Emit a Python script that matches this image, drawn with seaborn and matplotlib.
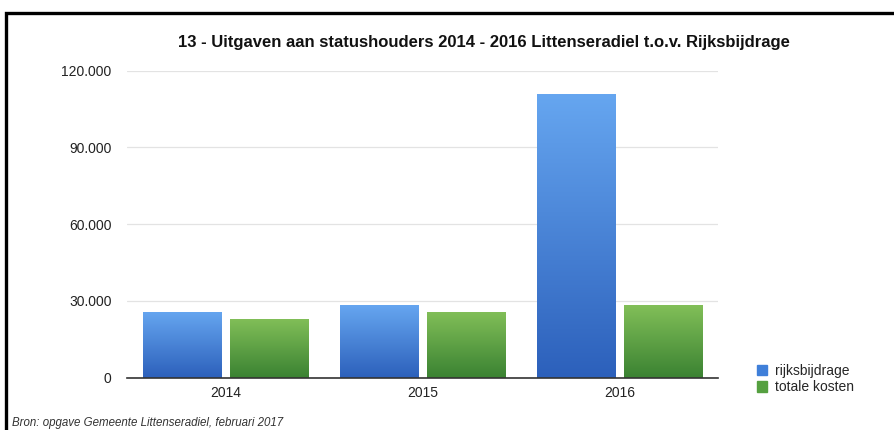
import numpy as np
import pandas as pd
import matplotlib
matplotlib.use("Agg")
import matplotlib.pyplot as plt
from matplotlib.colors import LinearSegmentedColormap
from matplotlib.lines import Line2D
from matplotlib.ticker import FuncFormatter
import seaborn as sns

# Data
jaren = ["2014", "2015", "2016"]
rijksbijdrage = [25800, 28300, 111000]
totale_kosten = [23100, 25800, 28400]
reeksen = ["rijksbijdrage", "totale kosten"]

titel = "13 - Uitgaven aan statushouders 2014 - 2016 Littenseradiel t.o.v. Rijksbijdrage"
bron = "Bron: opgave Gemeente Littenseradiel, februari 2017"

df = pd.DataFrame({
    "jaar": jaren * 2,
    "reeks": [reeksen[0]] * 3 + [reeksen[1]] * 3,
    "waarde": rijksbijdrage + totale_kosten,
})

sns.set_style("white")
plt.rcParams["font.family"] = ["Liberation Sans", "DejaVu Sans"]

kleuren = {"rijksbijdrage": "#3f7fd9", "totale kosten": "#55a040"}
gradienten = {
    "rijksbijdrage": ("#2c60bb", "#66a6f0"),
    "totale kosten": ("#3a8232", "#82bf58"),
}

fig = plt.figure(figsize=(8.95, 4.30), dpi=100)
ax = fig.add_axes([127 / 895, 1 - 377.7 / 430, 591 / 895, 307 / 430])

sns.barplot(data=df, x="jaar", y="waarde", hue="reeks", palette=kleuren,
            width=0.883, gap=0.092, ax=ax, legend=False, saturation=1)

ax.set_ylim(0, 120000)
ax.set_xlim(-0.5, 2.5)

# gradient fill per bar
patches = [p for p in ax.patches]
for i, p in enumerate(patches):
    reeks = reeksen[i // 3]
    lo, hi = gradienten[reeks]
    cmap = LinearSegmentedColormap.from_list(reeks, [lo, hi])
    x0, y0 = p.get_x(), p.get_y()
    w, h = p.get_width(), p.get_height()
    grad = np.linspace(0, 1, 256).reshape(-1, 1)
    im = ax.imshow(grad, cmap=cmap, origin="lower", aspect="auto",
                   extent=[x0, x0 + w, y0, y0 + h], zorder=3)
    im.set_clip_path(p)
    p.set_edgecolor("#e8eef8")
    p.set_linewidth(0.6)

ax.set_ylim(0, 120000)
ax.set_xlim(-0.5, 2.5)

ax.set_yticks([0, 30000, 60000, 90000, 120000])
ax.yaxis.set_major_formatter(FuncFormatter(lambda v, _: f"{int(v):,}".replace(",", ".")))
ax.grid(axis="y", color="#e3e3e3", linewidth=0.9)
ax.set_axisbelow(True)
ax.tick_params(axis="both", length=0, labelsize=10, colors="#222222")
ax.tick_params(axis="y", pad=11)
ax.tick_params(axis="x", pad=6)
ax.set_xlabel("")
ax.set_ylabel("")
for s in ["top", "right", "left"]:
    ax.spines[s].set_visible(False)
ax.spines["bottom"].set_color("#333333")
ax.spines["bottom"].set_linewidth(1.2)
ax.spines["bottom"].set_zorder(5)

fig.text(0.541, 1 - 43 / 430, titel, ha="center", va="center",
         fontsize=12, fontweight="bold", color="#111111")

handles = [plt.Rectangle((0, 0), 1, 1, color=kleuren[r]) for r in reeksen]
fig.legend(handles, reeksen, loc="upper left", bbox_to_anchor=(751 / 895, 1 - 358 / 430),
           frameon=False, fontsize=10, handlelength=0.75, handleheight=0.75,
           handletextpad=0.6, labelspacing=0.2, borderaxespad=0)

fig.text(12 / 895, 1 - 423 / 430, bron, ha="left", va="center",
         fontsize=8.3, style="italic", color="#333333")

# black frame (top and left edge visible)
fig.add_artist(Line2D([6.5 / 895, 6.5 / 895, 1.0], [0, 1 - 12.5 / 430, 1 - 12.5 / 430],
                      transform=fig.transFigure, color="black", linewidth=2.4,
                      solid_joinstyle="miter"))

fig.savefig("out.png", dpi=100)
